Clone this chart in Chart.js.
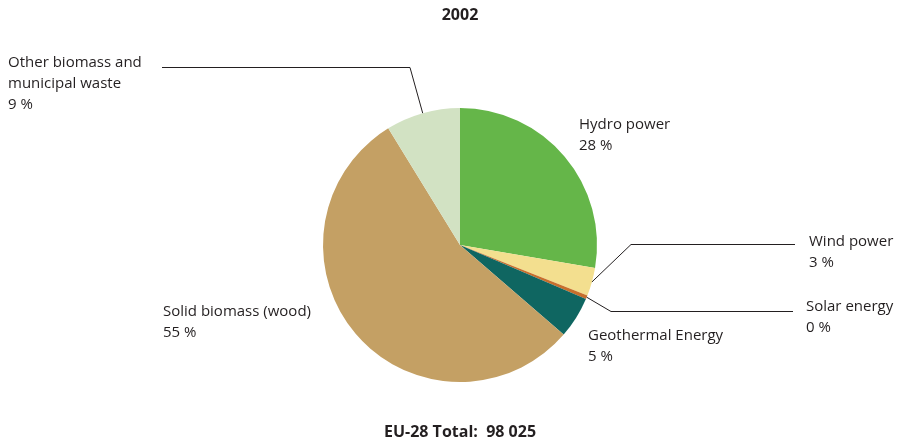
<!DOCTYPE html>
<html>
<head>
<meta charset="utf-8">
<script src="https://cdn.jsdelivr.net/npm/chart.js@4"></script>
<style>
  body { margin: 0; background: #fff; }
  #wrap { width: 907px; height: 448px; }
</style>
</head>
<body>
<div id="wrap"><canvas id="pie-chart" width="907" height="448"></canvas></div>
<script>
// renewable energy consumption, EU-28, 2002 (ktoe)
const year = '2002';
const sources = ['Hydro power', 'Wind power', 'Solar energy', 'Geothermal Energy', 'Solid biomass (wood)', 'Other biomass and municipal waste'];
const consumption = [27150, 3235, 440, 4800, 53800, 8600];
const colors = ['#65b649', '#f3df8f', '#c76f2c', '#0f6661', '#c4a064', '#d2e2c3'];

// where each label sits, split lines, and optional leader line (elbow + end)
const labelSpots = [
    { x: 579, y: 129, lines: ['Hydro power'] },
    { x: 809, y: 246, lines: ['Wind power'], elbow: [631, 244], end: [795, 244] },
    { x: 806, y: 311, lines: ['Solar energy'], elbow: [611, 311], end: [793, 311] },
    { x: 588, y: 340, lines: ['Geothermal Energy'] },
    { x: 163, y: 316, lines: ['Solid biomass (wood)'] },
    { x: 8, y: 67, lines: ['Other biomass and', 'municipal waste'], elbow: [410, 67], end: [162, 67] }
];

const total = consumption.reduce((a, b) => a + b, 0);

function formatTotal(n) {
    return String(n).replace(/\B(?=(\d{3})+(?!\d))/g, ' ');
}

const textFont = '15px "Open Sans", sans-serif';
const boldFont = 'bold 16px "Open Sans", sans-serif';
const lineGap = 21;

const labelPlugin = {
    id: 'pieLabels',
    afterDraw(chart) {
        const ctx = chart.ctx;
        const arcs = chart.getDatasetMeta(0).data;
        ctx.save();
        ctx.fillStyle = '#231f20';
        ctx.textBaseline = 'alphabetic';

        // leader lines
        ctx.strokeStyle = '#231f20';
        ctx.lineWidth = 1;
        labelSpots.forEach((spot, i) => {
            if (!spot.elbow) return;
            const arc = arcs[i];
            const mid = (arc.startAngle + arc.endAngle) / 2;
            const sx = arc.x + Math.cos(mid) * arc.outerRadius;
            const sy = arc.y + Math.sin(mid) * arc.outerRadius;
            ctx.beginPath();
            ctx.moveTo(sx, sy);
            ctx.lineTo(spot.elbow[0], spot.elbow[1] + 0.5);
            ctx.lineTo(spot.end[0], spot.end[1] + 0.5);
            ctx.stroke();
        });

        // category names and shares
        ctx.font = textFont;
        ctx.textAlign = 'left';
        labelSpots.forEach((spot, i) => {
            const pct = Math.round(consumption[i] / total * 100) + ' %';
            const lines = spot.lines.concat([pct]);
            lines.forEach((t, k) => ctx.fillText(t, spot.x, spot.y + k * lineGap));
        });

        // year on top, total below
        ctx.font = boldFont;
        ctx.textAlign = 'center';
        ctx.fillText(year, 460, 20);
        ctx.fillText('EU-28 Total:  ' + formatTotal(total), 460, 437);
        ctx.restore();
    }
};

new Chart(document.querySelector('#pie-chart').getContext('2d'), {
    type: 'pie',
    data: {
        labels: sources,
        datasets: [{
            data: consumption,
            backgroundColor: colors,
            borderWidth: 0,
            hoverOffset: 0
        }]
    },
    options: {
        responsive: false,
        animation: false,
        layout: {
            padding: { left: 323, right: 310, top: 108, bottom: 66 }
        },
        plugins: {
            legend: { display: false },
            tooltip: { enabled: false }
        }
    },
    plugins: [labelPlugin]
});
</script>
</body>
</html>
